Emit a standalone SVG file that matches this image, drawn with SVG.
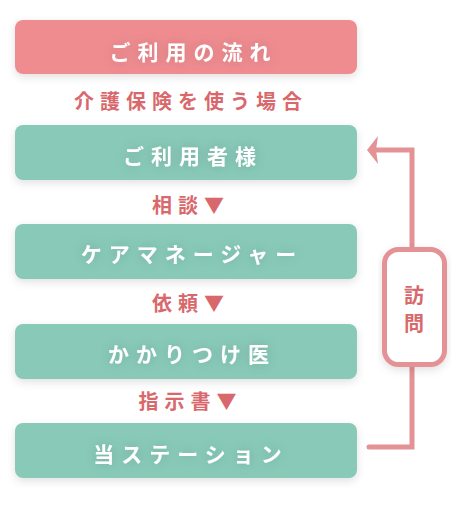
<svg xmlns="http://www.w3.org/2000/svg" width="469" height="505" viewBox="0 0 469 505">
<defs>
<filter id="sh" x="-10%" y="-30%" width="120%" height="170%">
<feDropShadow dx="0" dy="3" stdDeviation="4" flood-color="#000" flood-opacity="0.12"/>
</filter>
<filter id="ts" x="-20%" y="-60%" width="140%" height="220%">
<feGaussianBlur in="SourceAlpha" stdDeviation="6" result="b"/>
<feFlood flood-color="#000" flood-opacity="0.16"/>
<feComposite in2="b" operator="in" result="s"/>
<feMerge><feMergeNode in="s"/><feMergeNode in="SourceGraphic"/></feMerge>
</filter>
<style>
.box{fill:#88c9b8;}
.top{fill:#ef8c90;}
.bt{fill:#fff;font-family:"Noto Sans CJK JP",sans-serif;font-size:21px;font-weight:700;letter-spacing:7px;text-anchor:middle;dominant-baseline:central;}
.lb{fill:#d9686c;font-family:"Noto Sans CJK JP",sans-serif;font-size:20px;font-weight:700;letter-spacing:6px;text-anchor:middle;dominant-baseline:central;}
.ln{fill:none;stroke:#e39296;stroke-width:5;stroke-linejoin:miter;stroke-linecap:round;}
</style>
</defs>
<rect width="469" height="505" fill="#fff"/>
<g id="title">
<rect class="top" x="15" y="20" width="342" height="54" rx="8" filter="url(#sh)"/>
<text class="bt" x="193.5" y="51" filter="url(#ts)">ご利用の流れ</text>
</g>
<text class="lb" x="191" y="100">介護保険を使う場合</text>
<g id="user">
<rect class="box" x="15" y="125" width="342" height="55" rx="8" filter="url(#sh)"/>
<text class="bt" x="193" y="155" filter="url(#ts)">ご利用者様</text>
</g>
<g id="caremanager">
<rect class="box" x="15" y="224" width="342" height="55" rx="8" filter="url(#sh)"/>
<text class="bt" x="192" y="253" filter="url(#ts)">ケアマネージャー</text>
</g>
<g id="doctor">
<rect class="box" x="15" y="324" width="342" height="55" rx="8" filter="url(#sh)"/>
<text class="bt" x="192" y="353" filter="url(#ts)">かかりつけ医</text>
</g>
<g id="station">
<rect class="box" x="15" y="423" width="342" height="55" rx="8" filter="url(#sh)"/>
<text class="bt" x="191" y="452.5" filter="url(#ts)">当ステーション</text>
</g>
<g id="labels">
<text class="lb" x="191" y="204">相談▼</text>
<text class="lb" x="191" y="302">依頼▼</text>
<text class="lb" x="190.5" y="400">指示書▼</text>
</g>
<g id="connectors">
<path class="ln" d="M369,447 H412 V150 H376"/>
<path d="M367,150 L378,136 L376,150 L378,164 Z" fill="#e39296"/>
</g>
<g id="visit">
<rect x="384.5" y="249.5" width="60" height="115" rx="14" fill="#fff" stroke="#e39296" stroke-width="5" filter="url(#sh)"/>
<text class="lb" x="414" y="294" style="letter-spacing:0">訪</text>
<text class="lb" x="414" y="322.5" style="letter-spacing:0">問</text>
</g>
</svg>
